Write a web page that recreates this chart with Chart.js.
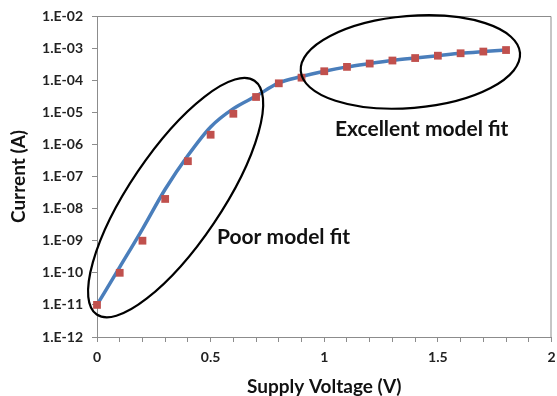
<!DOCTYPE html>
<html>
<head>
<meta charset="utf-8">
<script src="https://cdn.jsdelivr.net/npm/chart.js@4/dist/chart.umd.min.js"></script>
<style>
  html, body { margin: 0; padding: 0; background: #fff; }
</style>
</head>
<body>
<canvas id="myChart" width="557" height="396"></canvas>
<script>
// data
const voltage = [0, 0.1, 0.2, 0.3, 0.4, 0.5, 0.6, 0.7, 0.8, 0.9, 1.0, 1.1, 1.2, 1.3, 1.4, 1.5, 1.6, 1.7, 1.8];
const measured = [1e-11, 1e-10, 1e-9, 2e-8, 3e-7, 2e-6, 9e-6, 3e-5, 8e-5, 1.2e-4, 1.9e-4, 2.6e-4, 3.3e-4, 4.1e-4, 4.9e-4, 5.8e-4, 6.9e-4, 7.8e-4, 8.7e-4];
const model = [1e-11, 1.5e-10, 2.3e-9, 4e-8, 4.5e-7, 3.5e-6, 1.3e-5, 3.2e-5, 8.2e-5, 1.3e-4, 1.9e-4, 2.6e-4, 3.3e-4, 4.1e-4, 4.9e-4, 5.8e-4, 6.9e-4, 7.8e-4, 8.7e-4];

const yTickValues = [1e-12, 1e-11, 1e-10, 1e-9, 1e-8, 1e-7, 1e-6, 1e-5, 1e-4, 1e-3, 1e-2];
const yTickLabels = ["1.E-12", "1.E-11", "1.E-10", "1.E-09", "1.E-08", "1.E-07", "1.E-06", "1.E-05", "1.E-04", "1.E-03", "1.E-02"];
const xTickLabels = ["0", "0.5", "1", "1.5", "2"];

// callouts (centre in data units, radii in px, angle in degrees)
const ellipses = [
  { x: 0.346, y: 2.2e-8, rx: 141, ry: 46, angle: -56 },
  { x: 1.379, y: 3.7e-4, rx: 110, ry: 46, angle: -4.7 },
];
const notes = [
  { text: "Poor model fit", x: 0.528, y: 1.3e-9 },
  { text: "Excellent model fit", x: 1.047, y: 2.95e-6 },
];

const FONT = "Lato, 'Open Sans', sans-serif";
const AXIS = "#8c8c8c";

const annotate = {
  id: "annotate",
  beforeDatasetsDraw(chart) {
    const { ctx, chartArea: a } = chart;
    ctx.save();
    ctx.strokeStyle = AXIS;
    ctx.lineWidth = 1;
    ctx.beginPath();
    ctx.moveTo(a.left, a.top + 0.5);
    ctx.lineTo(a.right - 0.5, a.top + 0.5);
    ctx.lineTo(a.right - 0.5, a.bottom);
    ctx.stroke();
    ctx.restore();
  },
  afterDraw(chart) {
    const { ctx } = chart;
    const xs = chart.scales.x, ys = chart.scales.y;
    ctx.save();
    ctx.strokeStyle = "#000";
    ctx.lineWidth = 2.2;
    ellipses.forEach((e) => {
      ctx.beginPath();
      ctx.ellipse(xs.getPixelForValue(e.x), ys.getPixelForValue(e.y), e.rx, e.ry, e.angle * Math.PI / 180, 0, Math.PI * 2);
      ctx.stroke();
    });
    ctx.fillStyle = "#111";
    ctx.font = "bold 21px " + FONT;
    ctx.textAlign = "left";
    ctx.textBaseline = "middle";
    notes.forEach((n) => {
      ctx.fillText(n.text, xs.getPixelForValue(n.x), ys.getPixelForValue(n.y));
    });
    ctx.restore();
  },
};

const ctx = document.getElementById("myChart");

new Chart(ctx, {
  type: "scatter",
  data: {
    datasets: [
      {
        label: "Measured",
        data: voltage.map((v, i) => ({ x: v, y: measured[i] })),
        pointStyle: "rect",
        pointRadius: 5.5,
        pointHoverRadius: 5.5,
        backgroundColor: "#C0504D",
        borderColor: "#C0504D",
        borderWidth: 0,
        showLine: false,
        clip: false,
        order: 0,
      },
      {
        label: "Model",
        data: voltage.map((v, i) => ({ x: v, y: model[i] })),
        showLine: true,
        pointRadius: 0,
        borderColor: "#4A7EBB",
        borderWidth: 3.5,
        cubicInterpolationMode: "monotone",
        clip: false,
        order: 1,
      },
    ],
  },
  options: {
    responsive: false,
    animation: false,
    layout: { padding: { left: 0, top: 16, right: 2, bottom: 0 } },
    plugins: {
      legend: { display: false },
      tooltip: { enabled: false },
    },
    scales: {
      x: {
        type: "linear",
        min: 0,
        max: 2,
        afterFit(scale) {
          scale.height = 59;
          scale.paddingLeft = 0;
          scale.paddingRight = 0;
        },
        border: { color: AXIS, width: 1 },
        grid: { drawOnChartArea: false, drawTicks: true, tickLength: 5, color: AXIS },
        ticks: {
          stepSize: 0.1,
          autoSkip: false,
          maxRotation: 0,
          padding: 7,
          color: "#222",
          font: { family: FONT, size: 14, weight: "bold" },
          callback: (value) => {
            const k = value * 2;
            return Math.abs(k - Math.round(k)) < 1e-6 ? xTickLabels[Math.round(k)] : "";
          },
        },
        title: {
          display: true,
          text: "Supply Voltage (V)",
          color: "#111",
          font: { family: FONT, size: 19, weight: "bold" },
          padding: { top: 0, bottom: -2 },
        },
      },
      y: {
        type: "logarithmic",
        min: 1e-12,
        max: 1e-2,
        afterBuildTicks(scale) {
          scale.ticks = yTickValues.map((v) => ({ value: v }));
        },
        afterFit(scale) {
          scale.width = 97;
          scale.paddingTop = 0;
          scale.paddingBottom = 0;
        },
        border: { color: AXIS, width: 1 },
        grid: { drawOnChartArea: false, drawTicks: true, tickLength: 5, color: AXIS },
        ticks: {
          autoSkip: false,
          padding: 9,
          color: "#222",
          font: { family: FONT, size: 14, weight: "bold" },
          callback: (value, index) => yTickLabels[index],
        },
        title: {
          display: true,
          text: "Current (A)",
          color: "#111",
          font: { family: FONT, size: 19, weight: "bold" },
          padding: { top: 7, bottom: 0 },
        },
      },
    },
  },
  plugins: [annotate],
});
</script>
</body>
</html>
